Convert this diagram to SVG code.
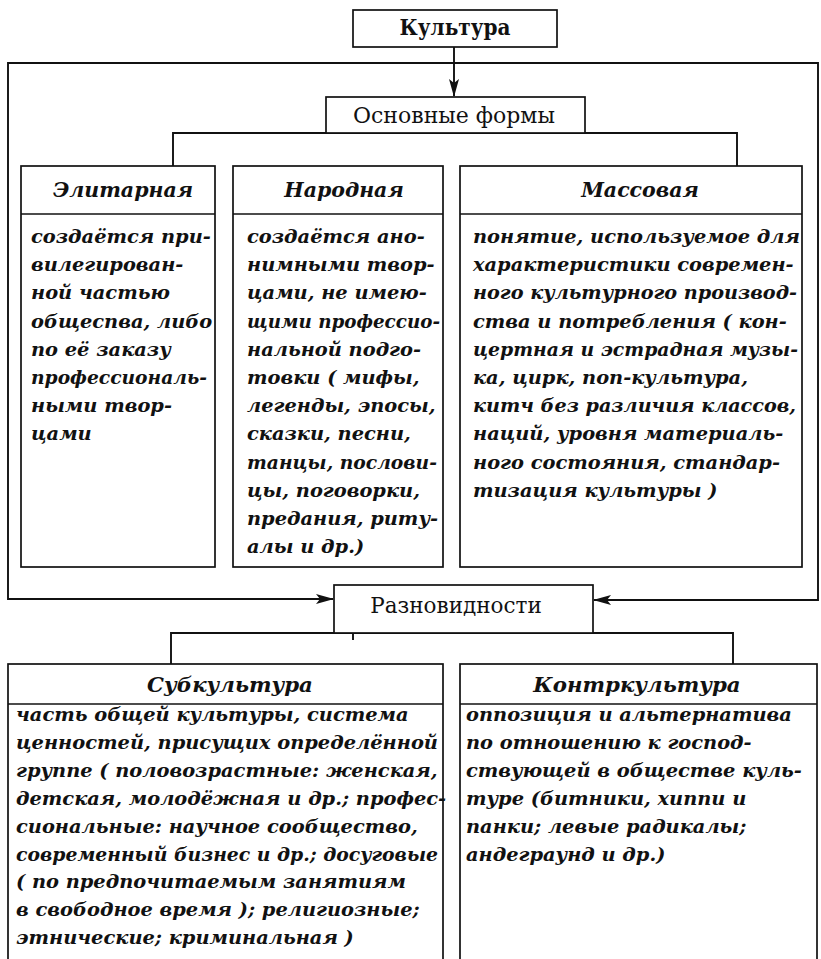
<svg xmlns="http://www.w3.org/2000/svg" width="821" height="959" viewBox="0 0 821 959">
<style>
.box{fill:#fff;stroke:#111;stroke-width:1.7}
.ln{fill:none;stroke:#111;stroke-width:1.9}
.sep{stroke:#111;stroke-width:1.7}
.body{font-family:"DejaVu Serif","Liberation Serif",serif;font-weight:bold;font-style:italic;font-size:19.4px;fill:#111}
.hdr{font-family:"DejaVu Serif","Liberation Serif",serif;font-weight:bold;font-style:italic;font-size:20.5px;fill:#111;text-anchor:middle}
.hdr2{font-family:"DejaVu Serif","Liberation Serif",serif;font-weight:bold;font-style:italic;font-size:21.3px;fill:#111;text-anchor:middle}
.lbl{font-family:"DejaVu Serif","Liberation Serif",serif;font-size:21.5px;fill:#111;text-anchor:middle}
.lblb{font-family:"DejaVu Serif","Liberation Serif",serif;font-weight:bold;font-size:21.5px;fill:#111;text-anchor:middle}
</style>
<defs>
<marker id="arr" markerUnits="userSpaceOnUse" markerWidth="18" markerHeight="12" refX="17" refY="6" orient="auto">
<path d="M0,1 L18,6 L0,11 L4,6 z" fill="#111"/>
</marker>
</defs>
<rect width="821" height="959" fill="#fff"/>
<g id="connectors">
<path class="ln" d="M454,63 H8 V599 H333" marker-end="url(#arr)"/>
<path class="ln" d="M454,63 H818 V600 H594" marker-end="url(#arr)"/>
<path class="ln" d="M454,47 V96" marker-end="url(#arr)"/>
<path class="ln" d="M173,166 V133 H737 V166"/>
<path class="ln" d="M171,664 V633 H733 V664"/>
<path class="ln" d="M353,634 V640" stroke-width="1.5"/>
</g>
<g id="kultura">
<rect class="box" x="353" y="10" width="204" height="37"/>
<text class="lblb" x="455" y="35" textLength="111" lengthAdjust="spacingAndGlyphs">Культура</text>
</g>
<g id="osnovnye-formy">
<rect class="box" x="326" y="97" width="259" height="36"/>
<text class="lbl" x="454" y="123" textLength="202" lengthAdjust="spacingAndGlyphs">Основные формы</text>
</g>
<g id="elitarnaya">
<rect class="box" x="21" y="166" width="194" height="401"/>
<line class="sep" x1="21" y1="214" x2="215" y2="214"/>
<text class="hdr" x="123" y="197">Элитарная</text>
<text class="body">
<tspan x="31" y="243">создаётся при-</tspan>
<tspan x="31" y="271.2">вилегирован-</tspan>
<tspan x="31" y="299.4">ной частью</tspan>
<tspan x="31" y="327.6">общеспва, либо</tspan>
<tspan x="31" y="355.8">по её заказу</tspan>
<tspan x="31" y="384" textLength="176" lengthAdjust="spacingAndGlyphs">профессиональ-</tspan>
<tspan x="31" y="412.2">ными твор-</tspan>
<tspan x="31" y="440.4">цами</tspan>
</text>
</g>
<g id="narodnaya">
<rect class="box" x="233" y="166" width="210" height="401"/>
<line class="sep" x1="233" y1="214" x2="443" y2="214"/>
<text class="hdr" x="344" y="197">Народная</text>
<text class="body">
<tspan x="247" y="243">создаётся ано-</tspan>
<tspan x="247" y="271.2">нимными твор-</tspan>
<tspan x="247" y="299.4">цами, не имею-</tspan>
<tspan x="247" y="327.6" textLength="193" lengthAdjust="spacingAndGlyphs">щими профессио-</tspan>
<tspan x="247" y="355.8">нальной подго-</tspan>
<tspan x="247" y="384">товки ( мифы,</tspan>
<tspan x="247" y="412.2">легенды, эпосы,</tspan>
<tspan x="247" y="440.4">сказки, песни,</tspan>
<tspan x="247" y="468.6" textLength="190" lengthAdjust="spacingAndGlyphs">танцы, послови-</tspan>
<tspan x="247" y="496.8">цы, поговорки,</tspan>
<tspan x="247" y="525">предания, риту-</tspan>
<tspan x="247" y="553.2">алы и др.)</tspan>
</text>
</g>
<g id="massovaya">
<rect class="box" x="460" y="166" width="342" height="401"/>
<line class="sep" x1="460" y1="214" x2="802" y2="214"/>
<text class="hdr" x="640" y="197">Массовая</text>
<text class="body">
<tspan x="473" y="243">понятие, используемое для</tspan>
<tspan x="473" y="271.2">характеристики современ-</tspan>
<tspan x="473" y="299.4" textLength="324" lengthAdjust="spacingAndGlyphs">ного культурного производ-</tspan>
<tspan x="473" y="327.6">ства и потребления ( кон-</tspan>
<tspan x="473" y="355.8" textLength="325" lengthAdjust="spacingAndGlyphs">цертная и эстрадная музы-</tspan>
<tspan x="473" y="384">ка, цирк, поп-культура,</tspan>
<tspan x="473" y="412.2" textLength="323" lengthAdjust="spacingAndGlyphs">китч без различия классов,</tspan>
<tspan x="473" y="440.4">наций, уровня материаль-</tspan>
<tspan x="473" y="468.6">ного состояния, стандар-</tspan>
<tspan x="473" y="496.8">тизация культуры )</tspan>
</text>
</g>
<g id="raznovidnosti">
<rect class="box" x="334" y="585" width="259" height="48"/>
<text class="lbl" x="456" y="613">Разновидности</text>
</g>
<g id="subkultura">
<rect class="box" x="8" y="664" width="435" height="300"/>
<line class="sep" x1="8" y1="704" x2="443" y2="704"/>
<text class="hdr2" x="230" y="692">Субкультура</text>
<text class="body">
<tspan x="16" y="721">часть общей культуры, система</tspan>
<tspan x="16" y="748.9" textLength="422" lengthAdjust="spacingAndGlyphs">ценностей, присущих определённой</tspan>
<tspan x="16" y="776.8">группе ( половозрастные: женская,</tspan>
<tspan x="16" y="804.7">детская, молодёжная и др.; профес-</tspan>
<tspan x="16" y="832.6">сиональные: научное сообщество,</tspan>
<tspan x="16" y="860.5" textLength="422" lengthAdjust="spacingAndGlyphs">современный бизнес и др.; досуговые</tspan>
<tspan x="16" y="888.4">( по предпочитаемым занятиям</tspan>
<tspan x="16" y="916.3">в свободное время ); религиозные;</tspan>
<tspan x="16" y="944.2">этнические; криминальная )</tspan>
</text>
</g>
<g id="kontrkultura">
<rect class="box" x="460" y="664" width="357" height="300"/>
<line class="sep" x1="460" y1="704" x2="817" y2="704"/>
<text class="hdr2" x="637" y="692">Контркультура</text>
<text class="body">
<tspan x="466" y="721">оппозиция и альтернатива</tspan>
<tspan x="466" y="748.9">по отношению к господ-</tspan>
<tspan x="466" y="776.8">ствующей в обществе куль-</tspan>
<tspan x="466" y="804.7">туре (битники, хиппи и</tspan>
<tspan x="466" y="832.6">панки; левые радикалы;</tspan>
<tspan x="466" y="860.5">андеграунд и др.)</tspan>
</text>
</g>
</svg>
